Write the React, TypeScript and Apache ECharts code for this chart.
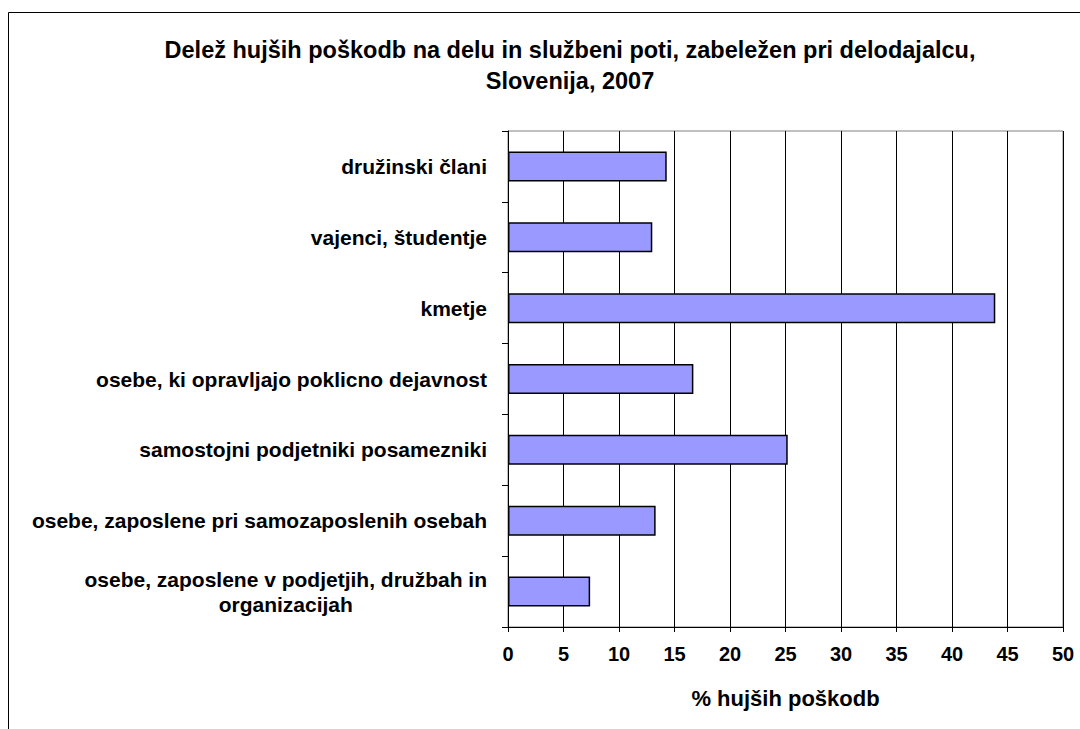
import React, { useEffect, useRef } from "react";
import * as echarts from "echarts";

const categories: string[] = [
  "družinski člani",
  "vajenci, študentje",
  "kmetje",
  "osebe, ki opravljajo poklicno dejavnost",
  "samostojni podjetniki posamezniki",
  "osebe, zaposlene pri samozaposlenih osebah",
  "osebe, zaposlene v podjetjih, družbah in\norganizacijah",
];
const values: number[] = [14.3, 13.0, 43.9, 16.7, 25.2, 13.3, 7.4];
const xTicks = { min: 0, max: 50, interval: 5 };
const titleText = "Delež hujših poškodb na delu in službeni poti, zabeležen pri delodajalcu,\nSlovenija, 2007";
const xAxisName = "% hujših poškodb";

const FONT = "'Liberation Sans', Arial, sans-serif";

export default function App() {
  const ref = useRef<HTMLDivElement>(null);
  useEffect(() => {
    if (!ref.current) return;
    const chart = echarts.init(ref.current, undefined, { renderer: "svg" });
    chart.setOption({
      animation: false,
      backgroundColor: "#ffffff",
      title: {
        text: titleText,
        left: 565,
        top: 29,
        textAlign: "center",
        textStyle: {
          fontFamily: FONT,
          fontSize: 23.5,
          fontWeight: "bold",
          color: "#000",
          lineHeight: 31,
        },
      },
      graphic: [
        {
          type: "rect",
          shape: { x: 8.5, y: 12.5, width: 1200, height: 900 },
          style: { fill: "none", stroke: "#000", lineWidth: 1 },
          silent: true,
        },
      ],
      grid: {
        left: 508,
        right: 17,
        top: 131,
        bottom: 102,
        show: true,
        borderColor: "#808080",
        borderWidth: 1,
        containLabel: false,
      },
      xAxis: {
        type: "value",
        min: xTicks.min,
        max: xTicks.max,
        interval: xTicks.interval,
        name: xAxisName,
        nameLocation: "middle",
        nameGap: 60,
        nameTextStyle: {
          fontFamily: FONT,
          fontSize: 22,
          fontWeight: "bold",
          color: "#000",
        },
        axisLine: { show: true, lineStyle: { color: "#000", width: 1 } },
        axisTick: { show: true, length: 5, inside: false, lineStyle: { color: "#000" } },
        axisLabel: {
          fontFamily: FONT,
          fontSize: 20,
          fontWeight: "bold",
          color: "#000",
          margin: 17,
        },
        splitLine: { show: true, lineStyle: { color: "#000", width: 1 } },
      },
      yAxis: {
        type: "category",
        data: categories,
        inverse: true,
        axisLine: { show: true, lineStyle: { color: "#000", width: 1 } },
        axisTick: { show: true, length: 6, inside: false, lineStyle: { color: "#000" } },
        axisLabel: {
          margin: 21,
          fontFamily: FONT,
          fontSize: 21,
          fontWeight: "bold",
          color: "#000",
          formatter: (v: string) =>
            v
              .split("\n")
              .map((s) => `{c|${s}}`)
              .join("\n"),
          rich: {
            c: {
              align: "center",
              fontFamily: FONT,
              fontSize: 21,
              fontWeight: "bold",
              color: "#000",
              lineHeight: 25,
            },
          },
        },
        splitLine: { show: false },
      },
      series: [
        {
          type: "bar",
          data: values,
          barWidth: 30,
          itemStyle: { color: "#9999ff", borderColor: "#000", borderWidth: 1.5 },
        },
      ],
    });
    return () => chart.dispose();
  }, []);
  return (
    <div
      ref={ref}
      style={{ position: "absolute", left: 0, top: 0, width: 1080, height: 729 }}
    />
  );
}
